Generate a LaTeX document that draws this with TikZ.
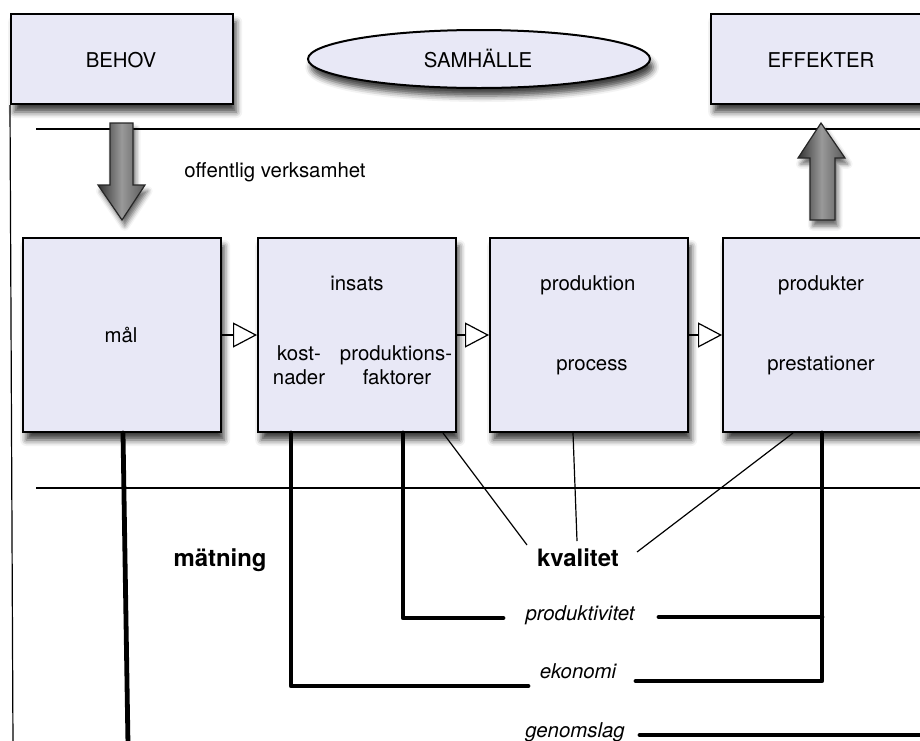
\documentclass[tikz,border=0pt]{standalone}
\usepackage{fontspec}
\setmainfont{TeX Gyre Heros}
\usetikzlibrary{calc,arrows.meta,shapes.geometric,shadows.blur}
\definecolor{boxfill}{RGB}{232,232,246}
\tikzset{
	box/.style={draw, line width=0.5mm, fill=boxfill, inner sep=0pt,
		blur shadow={shadow xshift=0.8mm, shadow yshift=-2mm, shadow blur radius=1.5mm, shadow opacity=75}},
	stage/.style={box, minimum width=49.5mm, minimum height=48.5mm},
	blob/.style={box, ellipse, minimum width=85.5mm, minimum height=14.5mm},
	lbl/.style={font=\fontsize{14.5}{17}\selectfont, anchor=base, inner sep=0pt},
	meas/.style={lbl, font=\fontsize{14.5}{17}\selectfont\itshape},
	big/.style={lbl, font=\fontsize{17}{20}\selectfont\bfseries},
	thinln/.style={line width=0.3mm},
	thickln/.style={line width=1.2mm, line cap=round, line join=round},
	flow/.style={line width=0.3mm, -{Triangle[length=6mm, width=6.25mm, fill=white]}},
	fat/.style={draw=black!85, line width=0.3mm, left color=black!80, right color=black!65, middle color=black!40,
		blur shadow={shadow xshift=0.7mm, shadow yshift=-1.5mm, shadow blur radius=1.2mm, shadow opacity=60}}
}

\begin{document}
\begin{tikzpicture}[x=0.25mm, y=-0.25mm]
		%%%%% START %%%%%
		\useasboundingbox (0,0) rectangle (920,740);
		
		\draw[thinln] (36,129) -- (925,129);
		\draw[thinln] (36,488) -- (925,488);
		
		\node[box, minimum width=55.5mm, minimum height=22.5mm] (behov) at (122,59) {};
		\node[blob] (samhalle) at (479,59) {};
		\node[box, minimum width=55mm, minimum height=22.5mm] (effekter) at (821,59) {};
		
		\node[lbl] (behovtxt) at (121,67) {BEHOV};
		\node[lbl] (samhalletxt) at (478,67) {SAMHÄLLE};
		\node[lbl] (effektertxt) at (821,67) {EFFEKTER};
		
		\draw[thinln] (behov.south west) -- (13,745);
		
		\node[lbl, anchor=base west] (offentlig) at (184,177) {offentlig verksamhet};
		
		\node[stage] (mal) at (122,335) {};
		\node[stage] (insats) at (357,335) {};
		\node[stage] (prod) at (589,335) {};
		\node[stage] (produkter) at (822,335) {};
		
		\node[lbl] (maltxt) at (121,342) {mål};
		\node[lbl] (insatstxt) at (357,290) {insats};
		\node[lbl] (kost) at (299,360) {kost-};
		\node[lbl] (nader) at (299,384) {nader};
		\node[lbl] (pfak) at (396,360) {produktions-};
		\node[lbl] (faktorer) at (397,384) {faktorer};
		\node[lbl] (prodtxt) at (588,290) {produktion};
		\node[lbl] (process) at (592,370) {process};
		\node[lbl] (produktertxt) at (821,290) {produkter};
		\node[lbl] (prestationer) at (821,370) {prestationer};
		
		\draw[flow] (mal.east) -- (insats.west);
		\draw[flow] (insats.east) -- (prod.west);
		\draw[flow] (prod.east) -- (produkter.west);
		
		% fat arrows
		\draw[fat] (110,123) -- (133,123) -- (133,185) -- (145,185) -- (122,220) -- (98,185) -- (110,185) -- cycle;
		\draw[fat] (810,220) -- (835,220) -- (835,158) -- (845,158) -- (821,123) -- (798,158) -- (810,158) -- cycle;
		
		\node[big] (matning) at (220,566) {mätning};
		\node[big] (kvalitet) at (578,566) {kvalitet};
		\node[meas] (produktivitet) at (580,620) {produktivitet};
		\node[meas] (ekonomi) at (578,678) {ekonomi};
		\node[meas] (genomslag) at (575,737) {genomslag};
		
		\coordinate (kq1) at (527,545);
		\coordinate (kq2) at (577,541);
		\coordinate (kq3) at (637,552);
		\draw[thinln] ($(insats.south east)+(-14,0)$) -- (kq1);
		\draw[thinln] ($(prod.south)+(-16,0)$) -- (kq2);
		\draw[thinln] ($(produkter.south)+(-29,0)$) -- (kq3);
		
		\coordinate (malend) at (128,745);
		\coordinate (pvL) at (503,618);
		\coordinate (pvR) at (659,617);
		\coordinate (ekL) at (528,686);
		\coordinate (ekR) at (636,681);
		\coordinate (gsL) at (640,735);
		\coordinate (gsR) at (930,735);
		
		\draw[thickln] ($(mal.south)+(1,0)$) -- (malend);
		\draw[thickln] ($(insats.south west)+(34,0)$) |- (ekL);
		\draw[thickln] ($(insats.south west)+(146,0)$) |- (pvL);
		\draw[thickln] (produkter.south) |- (ekR);
		\draw[thickln] (pvR) -- (pvR -| produkter.south);
		\draw[thickln] (gsL) -- (gsR);
		
		%%%%% END %%%%%
	\end{tikzpicture}
\end{document}
